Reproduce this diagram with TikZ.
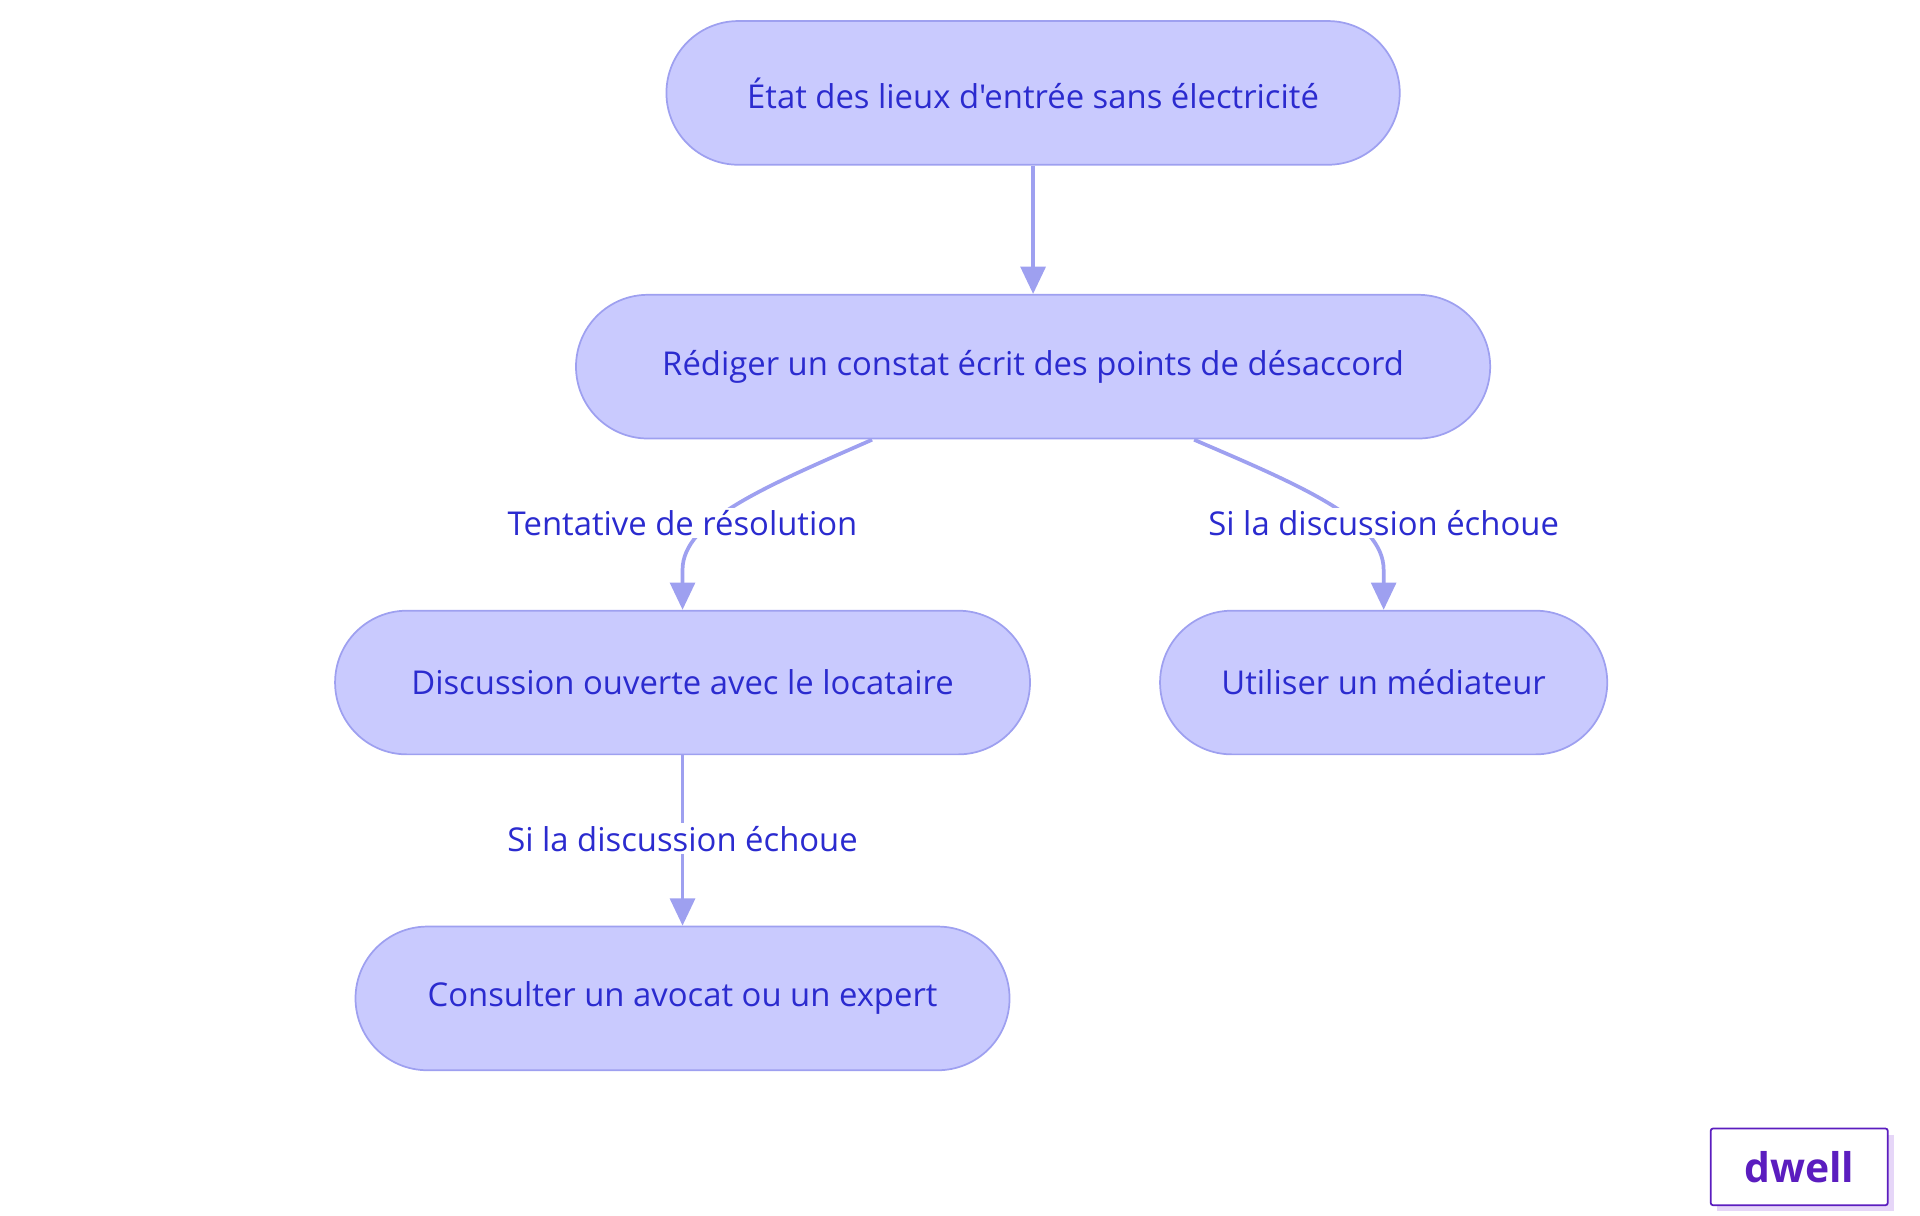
\documentclass[tikz,border=0pt]{standalone}
\usepackage{fontspec}
\setmainfont{Open Sans}[Ligatures=TeXOff]
\usetikzlibrary{arrows.meta}
\definecolor{nfill}{HTML}{C9CAFE}
\definecolor{nline}{HTML}{9EA0F0}
\definecolor{ntext}{HTML}{2B2BCF}
\definecolor{logo}{HTML}{5B1DBF}
\definecolor{logosh}{HTML}{E6D6F8}
\begin{document}
\begin{tikzpicture}[x=1pt,y=-1pt,
  box/.style={draw=nline,line width=1.4pt,fill=nfill,rounded corners=58pt,minimum height=116pt,text=ntext,font=\fontsize{26.5}{30}\selectfont,inner sep=0pt},
  edge/.style={draw=nline,line width=3pt,-{Triangle[length=22pt,width=20pt]}},
  lab/.style={fill=white,text=ntext,font=\fontsize{26.5}{30}\selectfont,inner sep=2pt}]
\useasboundingbox (0,0) rectangle (1550,981);
\node[box,minimum width=592pt] (A) at (834,75) {État des lieux d'entrée sans électricité};
\node[box,minimum width=738pt] (B) at (834,296) {Rédiger un constat écrit des points de désaccord};
\node[box,minimum width=561pt] (C) at (551,551) {Discussion ouverte avec le locataire};
\node[box,minimum width=361pt] (D) at (1117,551) {Utiliser un médiateur};
\node[box,minimum width=528pt] (E) at (551,806) {Consulter un avocat ou un expert};
\draw[edge] (A) -- (B);
\draw[edge] (704,355) .. controls (620,392) and (551,420) .. (551,460) -- (C.north);
\draw[edge] (964,355) .. controls (1050,392) and (1117,420) .. (1117,460) -- (D.north);
\draw[edge] (C) -- (E);
\node[lab] (l1) at (551,422) {Tentative de résolution};
\node[lab] (l2) at (1117,422) {Si la discussion échoue};
\node[lab] (l3) at (551,677) {Si la discussion échoue};
\fill[logosh] (1386,916) rectangle (1529,978);
\node[draw=logo,line width=1.4pt,fill=white,rounded corners=2pt,minimum width=143pt,minimum height=62pt,text=logo,font=\fontsize{33}{36}\selectfont\bfseries] (logo) at (1452.5,942) {dwell};
\end{tikzpicture}
\end{document}
